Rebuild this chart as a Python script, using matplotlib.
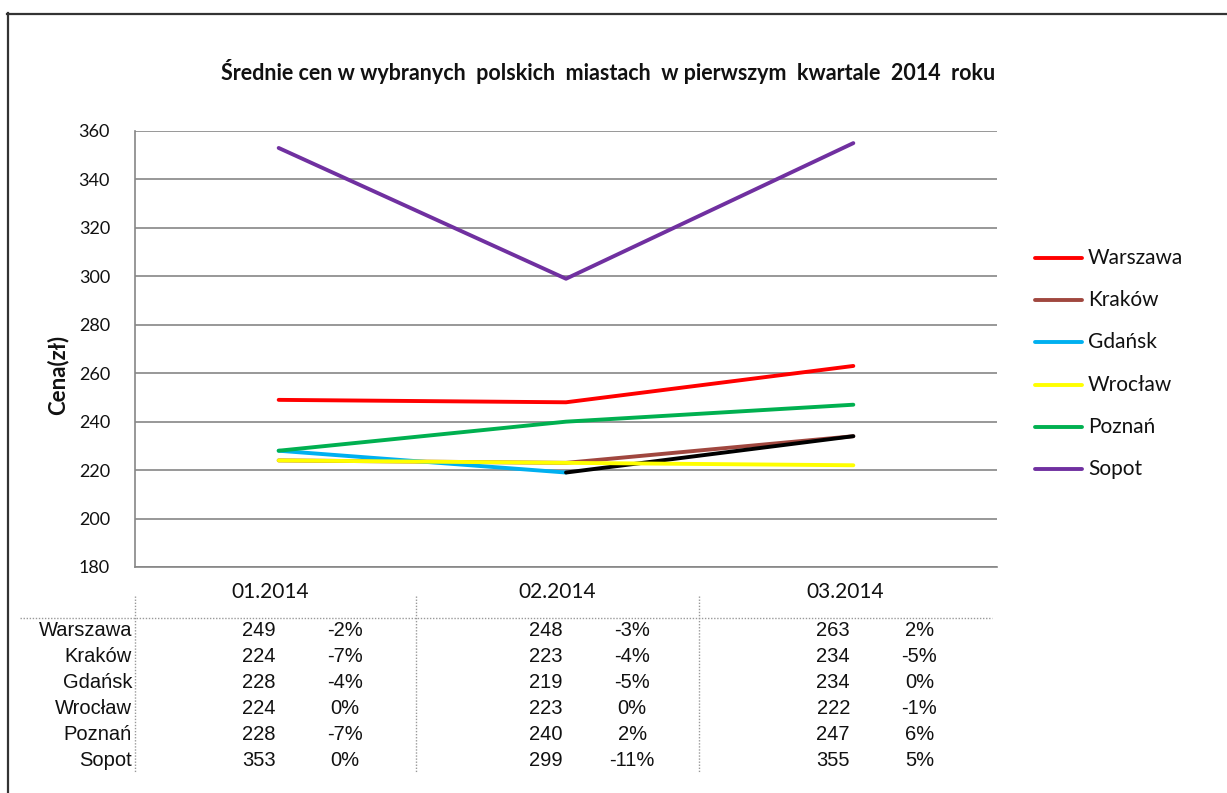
import matplotlib
matplotlib.use("Agg")
import matplotlib.pyplot as plt
import matplotlib.transforms as mtransforms
from matplotlib.lines import Line2D

# ---- data ----
months = ["01.2014", "02.2014", "03.2014"]
cities = ["Warszawa", "Kraków", "Gdańsk", "Wrocław", "Poznań", "Sopot"]
warszawa = [249, 248, 263]
krakow = [224, 223, 234]
gdansk = [228, 219, 234]
wroclaw = [224, 223, 222]
poznan = [228, 240, 247]
sopot = [353, 299, 355]
series = [warszawa, krakow, gdansk, wroclaw, poznan, sopot]
changes = [
    ["-2%", "-3%", "2%"],
    ["-7%", "-4%", "-5%"],
    ["-4%", "-5%", "0%"],
    ["0%", "0%", "-1%"],
    ["-7%", "2%", "6%"],
    ["0%", "-11%", "5%"],
]
colors = ["#FF0000", "#A0473F", "#00B0F0", "#FFFF00", "#00B050", "#7030A0"]
# Gdańsk's second segment is drawn black in the original
gdansk_segment_colors = ["#00B0F0", "#000000"]
yticks = [180, 200, 220, 240, 260, 280, 300, 320, 340, 360]
title = "Średnie cen w wybranych  polskich  miastach  w pierwszym  kwartale  2014  roku"

W, H = 1227, 793
fig = plt.figure(figsize=(W / 100, H / 100), dpi=100)
fig.patch.set_facecolor("white")

def fx(px):
    return px / W

def fy(py):
    return 1 - py / H

# outer frame (left and top edges visible)
fig.add_artist(Line2D([fx(7.5), fx(7.5)], [fy(13), fy(793)], color="#333333", lw=1.6,
                      transform=fig.transFigure))
fig.add_artist(Line2D([fx(7), fx(1227)], [fy(13.5), fy(13.5)], color="#333333", lw=1.6,
                      transform=fig.transFigure))

ax = fig.add_axes([fx(135), fy(567), fx(997) - fx(135), fy(131) - fy(567)])
ax.set_xlim(-0.5, 2.5)
ax.set_ylim(180, 360)
ax.set_yticks(yticks)
ax.set_yticklabels([str(v) for v in yticks], fontsize=13, family="Lato", color="#111111")
ax.tick_params(axis="y", length=0, pad=18)
ax.set_xticks([])
for s in ["top", "right"]:
    ax.spines[s].set_visible(False)
ax.spines["left"].set_color("#868686")
ax.spines["bottom"].set_color("#868686")
ax.spines["left"].set_linewidth(1.2)
ax.spines["bottom"].set_linewidth(1.2)
ax.grid(axis="y", color="#868686", lw=1.2)
ax.set_axisbelow(True)

x = list(range(len(months)))
lw = 2.8
for i, (name, vals, c) in enumerate(zip(cities, series, colors)):
    if name == "Gdańsk":
        for k in range(len(vals) - 1):
            ax.plot(x[k:k + 2], vals[k:k + 2], color=gdansk_segment_colors[k], lw=lw,
                    solid_capstyle="round", zorder=3 + i)
    else:
        ax.plot(x, vals, color=c, lw=lw, solid_capstyle="round", zorder=3 + i)

fig.text(fx(58), fy(375), "Cena(zł)", rotation=90, fontsize=16, family="Lato",
         fontweight="bold", ha="center", va="center", color="#111111")

# title
fig.text(fx(608), fy(72), title, fontsize=15.5, family="Lato", fontweight="bold",
         ha="center", va="center", color="#111111")

# legend
leg_rows = [258, 300, 342, 385, 427, 469]
for name, c, yy in zip(cities, colors, leg_rows):
    fig.add_artist(Line2D([fx(1035), fx(1082)], [fy(yy), fy(yy)], color=c, lw=lw,
                          solid_capstyle="round", transform=fig.transFigure))
    fig.text(fx(1088), fy(yy), name, fontsize=15, family="Lato", ha="left",
             va="center", color="#111111")

# data table below
bt = mtransforms.blended_transform_factory(ax.transData, fig.transFigure)
for j, m in enumerate(months):
    ax.text(j - 0.03, fy(592), m, transform=bt, fontsize=15, family="Lato",
            ha="center", va="center", color="#111111")
row_y = [631, 657, 683, 709, 735, 761]
for r, (name, vals) in enumerate(zip(cities, series)):
    fig.text(fx(132), fy(row_y[r]), name, fontsize=14.5, family="Liberation Sans",
             ha="right", va="center", color="#111111")
    for j in range(len(months)):
        ax.text(j - 0.07, fy(row_y[r]), str(vals[j]), transform=bt, fontsize=14.5,
                family="Liberation Sans", ha="center", va="center", color="#111111")
        ax.text(j + 0.23, fy(row_y[r]), changes[r][j], transform=bt, fontsize=14.5,
                family="Liberation Sans", ha="center", va="center", color="#111111")

# dotted table rules
fig.add_artist(Line2D([fx(20), fx(992)], [fy(618), fy(618)], color="#999999", lw=1.0,
                      ls=(0, (1, 1.2)), transform=fig.transFigure))
for vx in [135, 416, 699]:
    fig.add_artist(Line2D([fx(vx), fx(vx)], [fy(596), fy(772)], color="#999999", lw=1.0,
                          ls=(0, (1, 1.2)), transform=fig.transFigure))

fig.savefig("out.png", dpi=100)
